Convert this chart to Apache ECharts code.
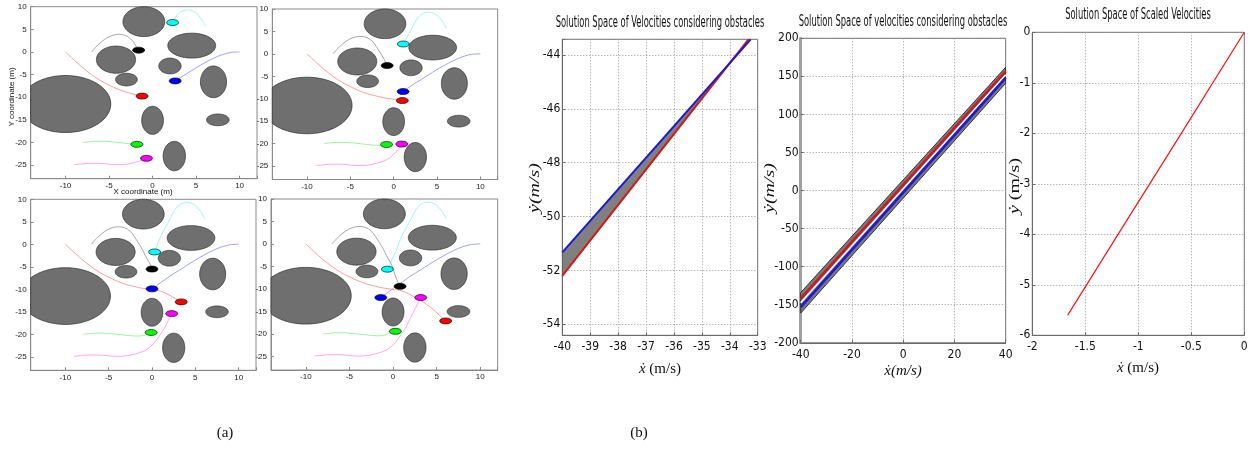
<!DOCTYPE html>
<html><head><meta charset="utf-8">
<script src="https://cdn.jsdelivr.net/npm/echarts@6/dist/echarts.min.js"></script>
<style>html,body{margin:0;padding:0;background:#fff}#c{width:1252px;height:450px}</style>
</head><body><div id="c"></div>
<script>
// ---------- DATA: panel (a) obstacles (ellipses: centre x, centre y, radius x, radius y) ----------
const obsCx = [-1, -10, -4.2, -3, 4.5, 2, 7, 0, 7.5, 2.5];
const obsCy = [6.7, -11.5, -1.7, -6.1, 1.4, -3.1, -6.6, -15.1, -15, -23];
const obsRx = [2.4, 5.2, 2.25, 1.25, 2.75, 1.28, 1.5, 1.25, 1.3, 1.28];
const obsRy = [3.3, 6.3, 3.0, 1.4, 2.75, 1.75, 3.5, 3.1, 1.3, 3.25];

// ---------- DATA: robot trajectories (full paths) and index of the robot position in each of the 4 snapshots ----------
const cyanX = [6.1, 5.6, 5.0, 4.4, 4.0, 3.5, 3.0, 2.6, 2.3, 1.8, 1.4, 1.1, 0.7, 0.3, 0.0, -0.3, -0.65];
const cyanY = [5.6, 7.3, 8.6, 9.2, 9.3, 9.1, 8.5, 7.5, 6.5, 4.6, 3.2, 2.2, 0.3, -1.7, -2.9, -4.2, -5.6];
const cyanStep = [8, 11, 13, 16];

const blackX = [-7, -6.3, -5.5, -4.7, -3.9, -3.2, -2.5, -2.0, -1.6, -1.1, -0.75, -0.4, -0.15, 0.0, 0.3, 0.8];
const blackY = [0, 1.5, 2.8, 3.6, 3.9, 3.7, 2.9, 1.6, 0.4, -1.2, -2.6, -3.8, -4.7, -5.5, -7.3, -9.4];
const blackStep = [8, 10, 13, 15];

const redX = [-10, -9, -8, -7, -6, -5, -4, -3, -2, -1.2, 0, 1.0, 2.2, 3.37, 4.4, 5.3, 6.03];
const redY = [0, -1.8, -3.5, -5.0, -6.3, -7.3, -8.2, -8.9, -9.4, -9.75, -10.1, -10.4, -11.5, -12.8, -14.2, -15.8, -17.1];
const redStep = [9, 11, 13, 16];

const blueX = [10, 9, 8, 7, 6, 5, 4, 3.2, 2.6, 1.8, 1.09, 0.5, 0, -0.7, -1.41];
const blueY = [0, -0.1, -0.6, -1.4, -2.4, -3.5, -4.7, -5.7, -6.4, -7.4, -8.4, -9.2, -9.9, -10.9, -11.9];
const blueStep = [8, 10, 12, 14];

const greenX = [-8, -7, -6, -5, -4, -3, -1.8, -0.82, -0.1, 0.27];
const greenY = [-20, -19.8, -19.7, -19.8, -20.0, -20.2, -20.4, -20.2, -19.6, -19.4];
const greenStep = [6, 7, 8, 9];

const magX = [-9, -8, -7, -6, -5, -4, -3, -2, -1.2, -0.7, 0, 0.5, 0.94, 1.4, 1.8, 2.27, 2.6, 2.9, 3.17];
const magY = [-24.9, -24.7, -24.6, -24.6, -24.8, -24.9, -24.8, -24.4, -23.9, -23.5, -22.4, -21.3, -20.1, -18.8, -17.2, -15.4, -14.1, -13.0, -11.9];
const magStep = [9, 12, 15, 18];

// ---------- DATA: panel (b) ----------
// b1: solution space band between blue (upper) and red (lower) boundary lines
const b1BlueX = [-40, -33.25];
const b1BlueY = [-51.33, -43.42];
const b1RedX = [-40, -33.33];
const b1RedY = [-52.2, -43.42];
// b2: gray band edges and three boundary lines
const b2BandX = [-40, 40];
const b2BandTop = [-134, 162];
const b2BandBottom = [-161, 141];
const b2RedY = [-142, 156.5];
const b2WhiteY = [-147.5, 152];
const b2BlueY = [-153, 148];
// b3: scaled velocities
const b3X = [-1.666, -1.2, -0.6, 0];
const b3Y = [-5.6, -4.03, -2.02, 0];

// ---------- texts ----------
const titleB1 = 'Solution Space of Velocities considering obstacles';
const titleB2 = 'Solution Space of velocities considering obstacles';
const titleB3 = 'Solution Space of Scaled Velocities';

// ---------- layout / style ----------
const narrow = "'Liberation Sans Narrow','DejaVu Sans Condensed',sans-serif";
const serif = "'Liberation Serif','DejaVu Serif',serif";
const aBoxes = [[30.7, 6.7, 226.3, 172], [272.3, 9, 225.4, 170.5], [30.7, 199.3, 225.3, 171], [271, 199, 226.7, 171]];
const bBoxes = [[562.3, 39.3, 195.4, 296], [800.7, 38.3, 205, 304.5], [1032.3, 32.3, 212, 303]];
const A_XMIN = -14, A_XMAX = 12, A_YMIN = -28, A_YMAX = 10;

const robots = [
  {x: cyanX, y: cyanY, step: cyanStep, line: '#9af7f7', dot: '#00ffff'},
  {x: blackX, y: blackY, step: blackStep, line: '#a8a8a8', dot: '#000000'},
  {x: redX, y: redY, step: redStep, line: '#ff9c9c', dot: '#ff0000'},
  {x: blueX, y: blueY, step: blueStep, line: '#a0a0ff', dot: '#0000ff'},
  {x: greenX, y: greenY, step: greenStep, line: '#9cf59c', dot: '#00ff00'},
  {x: magX, y: magY, step: magStep, line: '#ffa0ff', dot: '#ff00ff'}
];

const grid = [], xAxis = [], yAxis = [], series = [];
const mult = (v, m) => Math.abs(v / m - Math.round(v / m)) < 1e-6;
// ticks aligned to multiples of the step even when min is not a multiple of it
const stepOpts = (min, max, step) => mult(min, step)
  ? {min, max, interval: step}
  : {min, max, minInterval: step, maxInterval: step, splitNumber: Math.round((max - min) / step)};

aBoxes.forEach((b, i) => {
  grid.push({left: b[0], top: b[1], width: b[2], height: b[3], show: true, borderColor: '#8a8a8a', borderWidth: 1, backgroundColor: '#fff'});
  xAxis.push(Object.assign({gridIndex: i, type: 'value',
    axisLine: {show: true, onZero: false, lineStyle: {color: '#8a8a8a'}},
    axisTick: {show: true, inside: true, length: 3, lineStyle: {color: '#8a8a8a'}},
    splitLine: {show: false},
    axisLabel: {fontSize: 8, color: '#222', margin: 3, fontFamily: 'Liberation Sans', formatter: v => mult(v, 5) ? String(v) : ''}},
    stepOpts(A_XMIN, A_XMAX, 5)));
  yAxis.push(Object.assign({gridIndex: i, type: 'value',
    axisLine: {show: true, onZero: false, lineStyle: {color: '#8a8a8a'}},
    axisTick: {show: true, inside: true, length: 3, lineStyle: {color: '#8a8a8a'}},
    splitLine: {show: false},
    axisLabel: {fontSize: 8, color: '#222', margin: 4, fontFamily: 'Liberation Sans', formatter: v => mult(v, 5) ? String(v) : ''}},
    stepOpts(A_YMIN, A_YMAX, 5)));
});

const bAxisDefs = [
  {x: [-40, -33, 1], y: [-54.41, -43.42, 2]},
  {x: [-40, 40, 20], y: [-200, 200, 50]},
  {x: [-2, 0, 0.5], y: [-6, 0, 1]}
];
bBoxes.forEach((b, k) => {
  const gi = 4 + k;
  const d = bAxisDefs[k];
  grid.push({left: b[0], top: b[1], width: b[2], height: b[3], show: true, borderColor: '#6a6a6a', borderWidth: 1, backgroundColor: '#fff'});
  xAxis.push(Object.assign({gridIndex: gi, type: 'value',
    axisLine: {show: true, onZero: false, lineStyle: {color: '#6a6a6a'}},
    axisTick: {show: true, inside: true, length: 3, lineStyle: {color: '#6a6a6a'}},
    splitLine: {show: true, lineStyle: {color: '#9a9a9a', type: [1, 2], width: 1}},
    axisLabel: {fontSize: 12, color: '#111', margin: 6, fontFamily: narrow, formatter: v => mult(v, d.x[2]) ? String(v) : ''}},
    stepOpts(d.x[0], d.x[1], d.x[2])));
  yAxis.push(Object.assign({gridIndex: gi, type: 'value',
    axisLine: {show: true, onZero: false, lineStyle: {color: k === 1 ? '#a0a0a0' : '#6a6a6a', width: k === 1 ? 3 : 1}},
    axisTick: {show: true, inside: true, length: 3, lineStyle: {color: '#6a6a6a'}},
    splitLine: {show: true, lineStyle: {color: '#9a9a9a', type: [1, 2], width: 1}},
    axisLabel: {fontSize: 12, color: '#111', margin: 2, fontFamily: narrow, formatter: v => mult(v, d.y[2]) ? String(v) : ''}},
    stepOpts(d.y[0], d.y[1], d.y[2])));
});

// ---- panel (a) series ----
const clampA = (x, y) => [Math.max(A_XMIN, Math.min(A_XMAX, x)), Math.max(A_YMIN, Math.min(A_YMAX, y))];
function ellipseItem(params, api) {
  const cx = api.value(0), cy = api.value(1), rx = api.value(2), ry = api.value(3);
  const pts = [];
  for (let k = 0; k < 90; k++) {
    const t = k / 90 * Math.PI * 2;
    pts.push(api.coord(clampA(cx + rx * Math.cos(t), cy + ry * Math.sin(t))));
  }
  return {type: 'polygon', shape: {points: pts}, style: {fill: '#6f6f6f', stroke: '#2e2e2e', lineWidth: 0.7}};
}
const obsData = obsCx.map((x, i) => [x, obsCy[i], obsRx[i], obsRy[i]]);
for (let p = 0; p < 4; p++) {
  series.push({type: 'custom', xAxisIndex: p, yAxisIndex: p, renderItem: ellipseItem, data: obsData,
    encode: {x: 0, y: 1}, silent: true, z: 1});
  robots.forEach(r => {
    const n = r.step[p];
    series.push({type: 'line', xAxisIndex: p, yAxisIndex: p, showSymbol: false, smooth: 0.35, z: 2,
      lineStyle: {color: r.line, width: 1}, data: r.x.slice(0, n + 1).map((v, i) => [v, r.y[i]])});
  });
  robots.forEach(r => {
    const n = r.step[p];
    series.push({type: 'scatter', xAxisIndex: p, yAxisIndex: p, symbol: 'circle', symbolSize: [12, 6], z: 3,
      itemStyle: {color: r.dot, borderColor: '#000', borderWidth: 0.6, opacity: 1}, data: [[r.x[n], r.y[n]]]});
  });
}

// ---- panel (b) series ----
series.push({type: 'custom', xAxisIndex: 4, yAxisIndex: 4, clip: true, silent: true, z: 2, data: [[b1BlueX[0], b1BlueY[0]]],
  renderItem: (params, api) => {
    const pts = [];
    b1BlueX.forEach((x, i) => pts.push(api.coord([x, b1BlueY[i]])));
    for (let i = b1RedX.length - 1; i >= 0; i--) pts.push(api.coord([b1RedX[i], b1RedY[i]]));
    return {type: 'polygon', shape: {points: pts}, style: {fill: '#808080', stroke: '#555', lineWidth: 0.8}};
  }});
series.push({type: 'line', xAxisIndex: 4, yAxisIndex: 4, showSymbol: false, z: 3, lineStyle: {color: '#d01818', width: 2},
  data: b1RedX.map((x, i) => [x, b1RedY[i]])});
series.push({type: 'line', xAxisIndex: 4, yAxisIndex: 4, showSymbol: false, z: 3, lineStyle: {color: '#1a1ad8', width: 2},
  data: b1BlueX.map((x, i) => [x, b1BlueY[i]])});

series.push({type: 'custom', xAxisIndex: 5, yAxisIndex: 5, clip: true, silent: true, z: 2, data: [[b2BandX[0], b2BandTop[0]]],
  renderItem: (params, api) => {
    const pts = [];
    b2BandX.forEach((x, i) => pts.push(api.coord([x, b2BandTop[i]])));
    for (let i = b2BandX.length - 1; i >= 0; i--) pts.push(api.coord([b2BandX[i], b2BandBottom[i]]));
    return {type: 'polygon', shape: {points: pts}, style: {fill: '#7a7a7a', stroke: '#303030', lineWidth: 1}};
  }});
[[b2RedY, '#d01818', 2.6], [b2WhiteY, '#ffffff', 1.6], [b2BlueY, '#1a1ad8', 2.6]].forEach(([ys, c, w]) => {
  series.push({type: 'line', xAxisIndex: 5, yAxisIndex: 5, showSymbol: false, z: 3, lineStyle: {color: c, width: w},
    data: b2BandX.map((x, i) => [x, ys[i]])});
});

series.push({type: 'line', xAxisIndex: 6, yAxisIndex: 6, showSymbol: false, z: 3, lineStyle: {color: '#ff1010', width: 1.2},
  data: b3X.map((x, i) => [x, b3Y[i]])});

// ---- free texts ----
const t = (x, y, text, font, opts) => Object.assign({type: 'text', x, y, silent: true,
  style: {text, font, fill: '#111', align: 'center', verticalAlign: 'middle'}}, opts || {});
const ylabel = (x, y, italicUnits) => ({type: 'text', x, y, rotation: Math.PI / 2, scaleY: 0.68, silent: true,
  style: {text: '{v|ẏ}{u|' + (italicUnits ? '(m/s)' : ' (m/s)') + '}', align: 'center', verticalAlign: 'middle', fill: '#111',
    rich: {v: {font: 'italic 20px ' + serif, fill: '#111'}, u: {font: (italicUnits ? 'italic ' : '') + '20px ' + serif, fill: '#111'}}}});
const xlabel = (x, y, italicUnits, sp) => ({type: 'text', x, y, silent: true,
  style: {text: '{v|ẋ}{u|' + (sp ? ' ' : '') + '(m/s)}', align: 'center', verticalAlign: 'middle', fill: '#111',
    rich: {v: {font: 'italic 15px ' + serif, fill: '#111'}, u: {font: (italicUnits ? 'italic ' : '') + '15px ' + serif, fill: '#111'}}}});

const graphic = [
  t(143, 192, 'X coordinate (m)', '8px Liberation Sans'),
  Object.assign(t(12, 97, 'Y coordinate (m)', '8px Liberation Sans'), {rotation: Math.PI / 2}),
  Object.assign(t(660, 23, titleB1, '15px ' + narrow), {scaleX: 0.62}),
  Object.assign(t(903, 22, titleB2, '15px ' + narrow), {scaleX: 0.62}),
  Object.assign(t(1138, 15, titleB3, '15px ' + narrow), {scaleX: 0.62}),
  ylabel(535, 188, true),
  ylabel(770, 188, true),
  ylabel(1015, 186, false),
  xlabel(660, 369, false, true),
  xlabel(903, 371, true, false),
  xlabel(1138, 368, false, true),
  t(225, 433, '(a)', '15px ' + serif),
  t(639, 433, '(b)', '15px ' + serif)
];

const chart = echarts.init(document.getElementById('c'));
chart.setOption({animation: false, backgroundColor: '#fff', grid, xAxis, yAxis, series, graphic});
</script></body></html>
